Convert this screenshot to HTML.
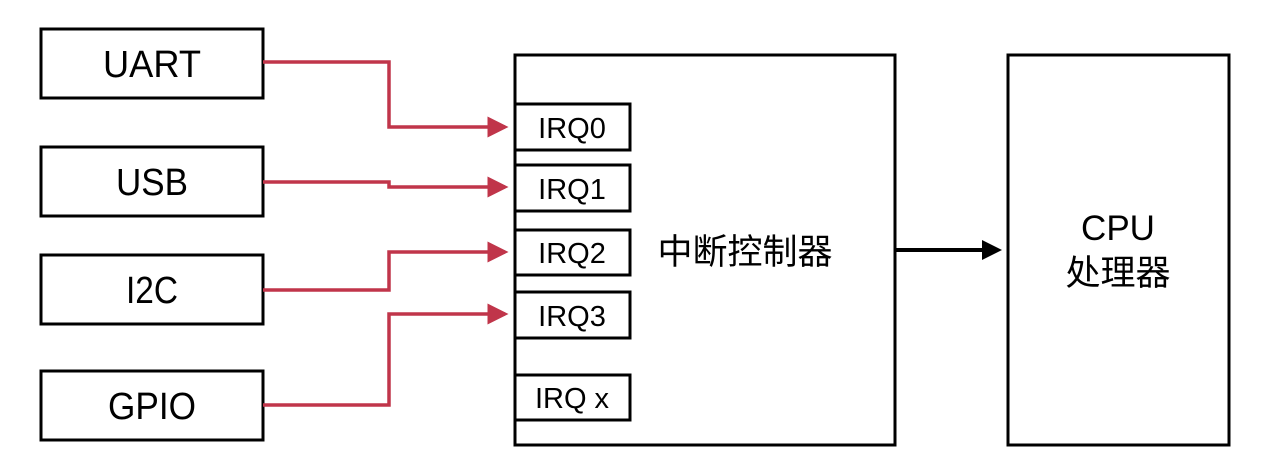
<!DOCTYPE html>
<html><head><meta charset="utf-8"><style>
html,body{margin:0;padding:0;background:#fff;width:1267px;height:471px;overflow:hidden}
</style></head><body>
<svg width="1267" height="471" xmlns="http://www.w3.org/2000/svg" font-family="'Liberation Sans','Noto Sans CJK SC',sans-serif">
<defs>
<marker id="r" markerWidth="6" markerHeight="6" refX="5" refY="3" orient="auto" markerUnits="strokeWidth"><path d="M0,0 L6,3 L0,6 z" fill="#c0354a"/></marker>
<marker id="b" markerWidth="5" markerHeight="5" refX="4" refY="2.5" orient="auto" markerUnits="strokeWidth"><path d="M0,0 L5,2.5 L0,5 z" fill="#000"/></marker>
</defs>
<g fill="none" stroke="#000" stroke-width="3">
<rect x="41" y="29" width="222" height="69"/>
<rect x="41" y="147" width="222" height="69"/>
<rect x="41" y="255" width="222" height="69"/>
<rect x="41" y="371" width="222" height="69"/>
<rect x="515" y="55" width="380" height="390"/>
<rect x="1008" y="55" width="221" height="390"/>
<rect x="515" y="104" width="115" height="46"/>
<rect x="515" y="165" width="115" height="46"/>
<rect x="515" y="230" width="115" height="45"/>
<rect x="515" y="292" width="115" height="46"/>
<rect x="515" y="375" width="115" height="45"/>
</g>
<g fill="none" stroke="#c0354a" stroke-width="3.5">
<polyline points="263,62 389,62 389,127 505,127" marker-end="url(#r)"/>
<polyline points="263,182 389,182 389,187 505,187" marker-end="url(#r)"/>
<polyline points="263,290 389,290 389,252 505,252" marker-end="url(#r)"/>
<polyline points="263,405 389,405 389,314 505,314" marker-end="url(#r)"/>
</g>
<line x1="895" y1="250" x2="998" y2="250" stroke="#000" stroke-width="4" marker-end="url(#b)"/>
<g font-size="38" text-anchor="middle" fill="#000">
<text x="152" y="77" textLength="98" lengthAdjust="spacingAndGlyphs">UART</text>
<text x="152" y="195" textLength="72" lengthAdjust="spacingAndGlyphs">USB</text>
<text x="152" y="303" textLength="52" lengthAdjust="spacingAndGlyphs">I2C</text>
<text x="152" y="419" textLength="88" lengthAdjust="spacingAndGlyphs">GPIO</text>
</g>
<g font-size="29" text-anchor="middle" fill="#000">
<text x="572" y="138">IRQ0</text>
<text x="572" y="199">IRQ1</text>
<text x="572" y="263">IRQ2</text>
<text x="572" y="326">IRQ3</text>
<text x="572" y="408">IRQ x</text>
</g>
<text x="745" y="264" font-size="35" text-anchor="middle">中断控制器</text>
<text x="1118" y="240" font-size="35" text-anchor="middle">CPU</text>
<text x="1118" y="285" font-size="35" text-anchor="middle">处理器</text>
</svg>
</body></html>
